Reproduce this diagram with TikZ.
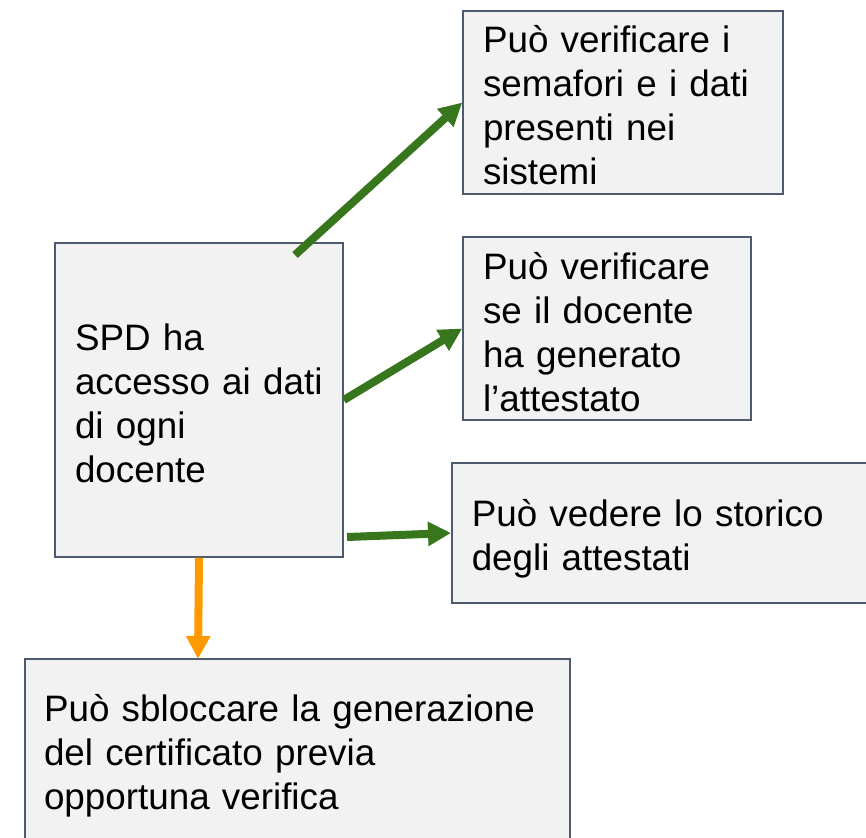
\documentclass[tikz,border=0pt]{standalone}
\usepackage{fontspec}
\setmainfont{Liberation Sans}
\usetikzlibrary{arrows.meta}
\definecolor{boxfill}{HTML}{F2F2F2}
\definecolor{boxline}{HTML}{4E5A6E}
\definecolor{arrgreen}{HTML}{38761D}
\definecolor{arrorange}{HTML}{FF9900}
\begin{document}
\begin{tikzpicture}[x=1pt,y=-1pt,
  box/.style={draw=boxline, fill=boxfill, line width=1.5pt, rectangle,
    inner xsep=20pt, inner ysep=0pt, align=left,
    font=\fontsize{36.8}{44}\selectfont},
  garrow/.style={draw=arrgreen, line width=8pt, -{Triangle[length=23pt,width=23pt]}},
  oarrow/.style={draw=arrorange, line width=8pt, -{Triangle[length=23pt,width=23pt]}}]
\useasboundingbox (0,0) rectangle (866,837);
\node[box, minimum width=288pt, minimum height=314pt, text width=248pt] (A) at (199,400)
  {\rule{0pt}{33.5pt}SPD ha\\accesso ai dati\\di ogni\\docente};
\node[box, minimum width=320pt, minimum height=183pt, text width=280pt] (b1) at (623,102.5)
  {\rule{0pt}{31.5pt}Può verificare i\\semafori e i dati\\presenti nei\\sistemi};
\node[box, minimum width=288pt, minimum height=183pt, text width=248pt] (b2) at (607,328.5)
  {\rule{0pt}{33.5pt}Può verificare\\se il docente\\ha generato\\l’attestato};
\node[box, anchor=west, minimum width=460pt, minimum height=140pt, text width=420pt] (b3) at (451,533)
  {\rule{0pt}{39.5pt}Può vedere lo storico\\degli attestati};
\node[box, inner xsep=19pt, minimum width=545pt, minimum height=194pt, text width=507pt] (b4) at (297.5,756)
  {Può sbloccare la generazione\\del certificato previa\\opportuna verifica};
\coordinate (s1) at (295,255);
\coordinate (s3) at (347,537);
\coordinate (e4) at (198,659);
\draw[garrow] (s1) -- (b1.west);
\draw[garrow] (A.east) -- (b2.west);
\draw[garrow] (s3) -- (b3.west);
\draw[oarrow] (A.south) -- (e4);
\end{tikzpicture}
\end{document}
